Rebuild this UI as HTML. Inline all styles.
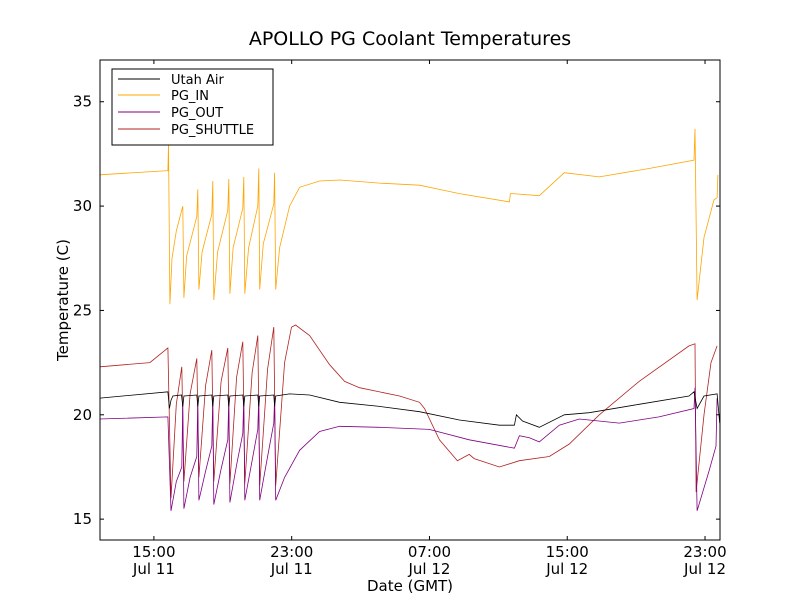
<!DOCTYPE html>
<html><head><meta charset="utf-8"><style>
body{margin:0;background:#fff;}
svg text{font-family:"DejaVu Sans","Liberation Sans",sans-serif;}
</style></head><body>
<svg id="chart" width="800" height="600" xmlns="http://www.w3.org/2000/svg">
<rect width="800" height="600" fill="#fff"/>
<text x="410" y="45" font-size="19" text-anchor="middle">APOLLO PG Coolant Temperatures</text>
<g id="plot"></g>
<rect x="100" y="60" width="620" height="480" fill="none" stroke="#000" stroke-width="1"/>
<text x="410" y="591" font-size="15" text-anchor="middle">Date (GMT)</text>
<text transform="translate(68,300) rotate(-90)" font-size="15" text-anchor="middle">Temperature (C)</text>
<g>
<rect x="112" y="69" width="161" height="76" fill="#fff" stroke="#000"/>
<line x1="118" y1="79" x2="160" y2="79" stroke="#000"/><text x="171" y="84" font-size="13">Utah Air</text>
<line x1="118" y1="95" x2="160" y2="95" stroke="#ffa500"/><text x="171" y="100" font-size="13">PG_IN</text>
<line x1="118" y1="112" x2="160" y2="112" stroke="#800080"/><text x="171" y="117" font-size="13">PG_OUT</text>
<line x1="118" y1="129" x2="160" y2="129" stroke="#b22222"/><text x="171" y="134" font-size="13">PG_SHUTTLE</text>
</g>
</svg>
<script>
// hours since Jul 11 00:00 GMT
const yTicks=[15,20,25,30,35];
const xTicks=[15,23,31,39,47];
const xTickTimes=["15:00","23:00","07:00","15:00","23:00"];
const xTickDates=["Jul 11","Jul 11","Jul 12","Jul 12","Jul 12"];
const pgInT=[11.87,15.81,15.85,15.93,16.05,16.3,16.68,16.74,16.9,17.49,17.55,17.61,17.8,18.36,18.42,18.48,18.7,19.29,19.35,19.41,19.6,20.16,20.22,20.28,20.5,21.03,21.09,21.14,21.35,21.96,22.01,22.07,22.3,22.88,23.46,24.62,25.78,28.10,30.42,31.58,32.74,35.64,35.70,35.81,37.38,38.83,40.86,43.75,46.36,46.42,46.54,46.94,47.52,47.70,47.75];
const pgInV=[31.5,31.7,33.0,25.3,27.5,28.8,30.0,25.6,27.6,29.5,30.8,26.0,27.8,29.6,31.2,25.5,27.8,29.8,31.3,25.8,28.0,29.9,31.4,25.8,28.0,30.0,31.8,26.0,28.2,30.1,31.6,26.0,28.0,30.0,30.9,31.2,31.25,31.1,31.0,30.8,30.6,30.2,30.6,30.6,30.5,31.6,31.4,31.8,32.2,33.7,25.5,28.5,30.3,30.4,31.5];
const airT=[11.87,15.81,15.90,15.99,16.10,16.6,16.68,16.74,17.49,17.55,17.61,18.36,18.42,18.48,19.29,19.35,19.41,20.16,20.22,20.28,21.03,21.09,21.14,21.96,22.01,22.07,22.88,24.04,25.78,28.10,30.42,32.74,35.06,35.93,36.05,36.40,37.38,38.83,40.28,43.17,46.07,46.36,46.54,46.94,47.70,47.85];
const airV=[20.8,21.1,20.3,20.7,20.9,20.95,20.4,20.9,20.95,20.4,20.9,20.95,20.4,20.9,20.95,20.4,20.9,20.95,20.4,20.9,20.95,20.4,20.9,20.95,20.4,20.9,21.0,20.95,20.6,20.4,20.15,19.75,19.5,19.5,20.0,19.7,19.4,20.0,20.1,20.5,20.9,21.1,20.3,20.9,21.0,19.6];
const outT=[11.87,15.81,15.99,16.3,16.62,16.68,16.74,17.1,17.49,17.55,17.61,18.0,18.36,18.42,18.48,18.9,19.29,19.35,19.41,19.8,20.16,20.22,20.28,20.7,21.03,21.09,21.14,21.6,21.96,22.01,22.07,22.59,23.46,24.62,25.78,28.10,30.99,33.31,35.93,36.22,36.80,37.38,38.54,39.70,42.02,44.33,46.36,46.42,46.54,47.23,47.64,47.70];
const outV=[19.8,19.9,15.4,16.8,17.5,20.6,15.5,17.0,18.0,20.7,15.9,17.3,18.5,20.8,15.7,17.4,18.8,20.8,15.8,17.6,19.1,20.8,15.9,17.8,19.3,20.9,15.9,18.0,19.6,20.8,15.9,17.0,18.3,19.2,19.45,19.4,19.3,18.8,18.4,19.0,18.9,18.7,19.5,19.8,19.6,19.9,20.3,21.3,15.4,17.3,18.5,20.8];
const shT=[11.87,14.77,15.81,15.99,16.3,16.62,16.74,17.1,17.49,17.61,18.0,18.36,18.48,18.9,19.29,19.41,19.8,20.16,20.28,20.7,21.03,21.14,21.6,21.96,22.07,22.59,22.99,23.23,24.04,25.20,26.07,26.94,29.26,30.42,30.71,31.58,32.62,33.31,33.60,35.06,36.22,37.96,39.12,40.86,43.17,46.07,46.42,46.48,46.94,47.35,47.70];
const shV=[22.3,22.5,23.2,16.0,20.5,22.3,16.8,21.0,22.7,17.0,21.4,23.1,16.8,21.6,23.2,16.7,21.8,23.5,16.7,22.0,23.8,16.6,22.2,24.2,16.6,22.5,24.2,24.3,23.8,22.4,21.6,21.3,20.9,20.6,20.3,18.8,17.8,18.1,17.9,17.5,17.8,18.0,18.6,20.0,21.6,23.3,23.4,16.3,20.0,22.5,23.3];
const X0=11.87,X1=47.87,Y0=14,Y1=37,L=100,R=720,T=60,B=540;
function xs(h){return L+(h-X0)/(X1-X0)*(R-L);}
function ys(v){return B-(v-Y0)/(Y1-Y0)*(B-T);}
const NS="http://www.w3.org/2000/svg";
const g=document.getElementById('plot');
yTicks.forEach(v=>{
  const y=ys(v);
  const t=document.createElementNS(NS,'text');
  t.setAttribute('x',92);t.setAttribute('y',y+5);t.setAttribute('font-size','15');t.setAttribute('text-anchor','end');t.textContent=v;
  
  
  g.appendChild(t);
  [[L,L+4],[R,R-4]].forEach(p=>{const l=document.createElementNS(NS,'line');l.setAttribute('x1',p[0]);l.setAttribute('x2',p[1]);l.setAttribute('y1',y);l.setAttribute('y2',y);l.setAttribute('stroke','#000');g.appendChild(l);});
});
xTicks.forEach((h,i)=>{
  const x=xs(h);
  [[B,B-4],[T,T+4]].forEach(p=>{const l=document.createElementNS(NS,'line');l.setAttribute('x1',x);l.setAttribute('x2',x);l.setAttribute('y1',p[0]);l.setAttribute('y2',p[1]);l.setAttribute('stroke','#000');g.appendChild(l);});
  [[xTickTimes[i],557],[xTickDates[i],574]].forEach(a=>{const t=document.createElementNS(NS,'text');t.setAttribute('x',x);t.setAttribute('y',a[1]);t.setAttribute('font-size','15');t.setAttribute('text-anchor','middle');t.textContent=a[0];
  
  
  g.appendChild(t);});
});
function line(ts,vs,c,name){
  const p=document.createElementNS(NS,'polyline');
  p.setAttribute('points',ts.map((t,i)=>xs(t).toFixed(1)+','+ys(vs[i]).toFixed(1)).join(' '));
  p.setAttribute('fill','none');p.setAttribute('stroke',c);p.setAttribute('stroke-width','0.8');
  
  
  g.appendChild(p);
}
line(shT,shV,'#b22222','pg-shuttle-line');
line(outT,outV,'#800080','pg-out-line');
line(airT,airV,'#000','utah-air-line');
line(pgInT,pgInV,'#ffa500','pg-in-line');
</script>
</body></html>
